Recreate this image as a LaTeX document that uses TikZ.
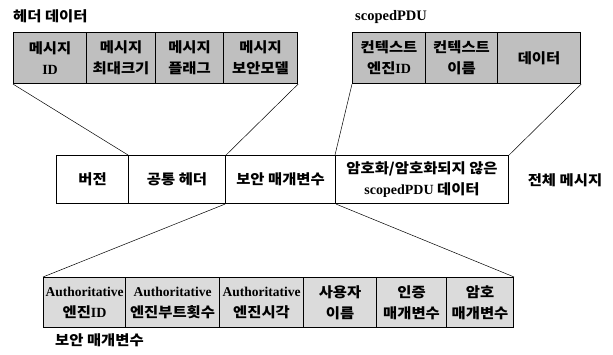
\documentclass[tikz,border=0pt]{standalone}
\usepackage{fontspec}
\setmainfont{Liberation Serif}
\newfontfamily\korf[FakeStretch=1.1]{Noto Sans CJK KR}
\newcommand{\kor}[1]{{\korf\bfseries #1}}
\newcommand{\auth}{{\fontsize{13.5}{21}\selectfont Authoritative}}
\begin{document}
\begin{tikzpicture}[x=1pt,y=-1pt,
  cell/.style={draw=black, line width=1.1pt, anchor=north west, inner sep=0pt,
    align=center, font=\fontsize{14}{21}\selectfont\bfseries},
  topcell/.style={cell, fill=gray!50, minimum height=51pt},
  midcell/.style={cell, fill=white, minimum height=48pt},
  botcell/.style={cell, fill=gray!28, minimum height=50pt},
  conn/.style={draw=black, line width=0.5pt},
  lbl/.style={inner sep=0pt, font=\fontsize{14}{16}\selectfont\bfseries}]
\useasboundingbox (0,0) rectangle (613,355);
% header data
\node[lbl, anchor=west] (thdr) at (13,16) {\kor{헤더 데이터}};
\node[topcell, minimum width=73pt] (h1) at (13,32) {\kor{메시지}\\ID};
\node[topcell, minimum width=69pt] (h2) at (86,32) {\kor{메시지}\\\kor{최대크기}};
\node[topcell, minimum width=68pt] (h3) at (155,32) {\kor{메시지}\\\kor{플래그}};
\node[topcell, minimum width=74pt] (h4) at (223,32) {\kor{메시지}\\\kor{보안모델}};
% scopedPDU
\node[lbl, anchor=west, font=\fontsize{14.5}{16}\selectfont\bfseries] (tpdu) at (355,17) {scopedPDU};
\node[topcell, minimum width=73pt] (p1) at (352,32) {\kor{컨텍스트}\\\kor{엔진}ID};
\node[topcell, minimum width=72pt] (p2) at (425,32) {\kor{컨텍스트}\\\kor{이름}};
\node[topcell, minimum width=83pt] (p3) at (497,32) {\kor{데이터}};
% whole message
\node[midcell, minimum width=72pt] (m1) at (56,155) {\kor{버전}};
\node[midcell, minimum width=97pt] (m2) at (128,155) {\kor{공통 헤더}};
\node[midcell, minimum width=110pt] (m3) at (225,155) {\kor{보안 매개변수}};
\node[midcell, minimum width=173pt] (m4) at (335,155) {\kor{암호화/암호화되지 않은}\\scopedPDU \kor{데이터}};
\node[lbl, anchor=center] (whole) at (565,180) {\kor{전체 메시지}};
% security parameters
\node[botcell, minimum width=82pt] (b1) at (43,277) {\auth\\\kor{엔진}ID};
\node[botcell, minimum width=94pt] (b2) at (125,277) {\auth\\\kor{엔진부트횟수}};
\node[botcell, minimum width=84pt] (b3) at (219,277) {\auth\\\kor{엔진시각}};
\node[botcell, minimum width=73pt] (b4) at (303,277) {\kor{사용자}\\\kor{이름}};
\node[botcell, minimum width=70pt] (b5) at (376,277) {\kor{인증}\\\kor{매개변수}};
\node[botcell, minimum width=67pt] (b6) at (446,277) {\kor{암호}\\\kor{매개변수}};
\node[lbl, anchor=west] (tsec) at (55,340) {\kor{보안 매개변수}};
% connectors
\draw[conn] (h1.south west) -- (m2.north west);
\draw[conn] (h4.south east) -- (m2.north east);
\draw[conn] (p1.south west) -- (m4.north west);
\draw[conn] (p3.south east) -- (m4.north east);
\draw[conn] (m3.south west) -- (b1.north west);
\draw[conn] (m3.south east) -- (b6.north east);
\end{tikzpicture}
\end{document}
